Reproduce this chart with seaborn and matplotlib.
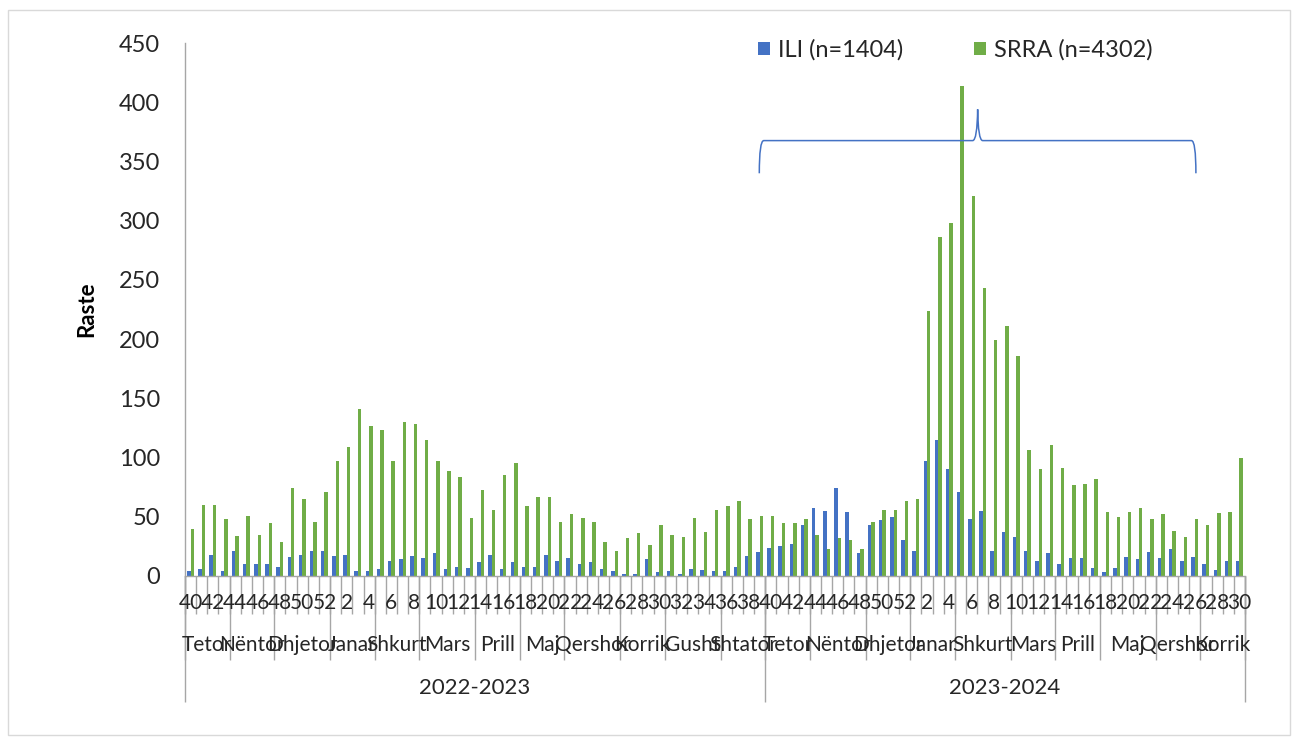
import numpy as np
import pandas as pd
import matplotlib
matplotlib.use("Agg")
import matplotlib.pyplot as plt
import seaborn as sns
from matplotlib.path import Path
from matplotlib.patches import PathPatch, Rectangle

# --- data -------------------------------------------------------------
weeks_s1 = list(range(40, 53)) + list(range(1, 40))
weeks_s2 = list(range(40, 53)) + list(range(1, 31))

ili_s1 = [4, 6, 18, 4, 21, 10, 10, 10, 8, 16, 18, 21, 21,
          17, 18, 4, 4, 6, 13, 14, 17, 15, 19, 6, 8, 7, 12, 18, 6, 12,
          8, 8, 18, 13, 15, 10, 12, 6, 4, 2, 2, 14, 3, 4, 2, 6, 5, 4, 4, 8, 17, 20]
srra_s1 = [40, 60, 60, 48, 34, 51, 35, 45, 29, 74, 65, 46, 71,
           97, 109, 141, 127, 123, 97, 130, 128, 115, 97, 89, 84, 49, 73, 56, 85, 95,
           59, 67, 67, 46, 52, 49, 46, 29, 21, 32, 36, 26, 43, 35, 33, 49, 37, 56, 59, 63, 48, 51]

ili_s2 = [24, 25, 27, 43, 57, 55, 74, 54, 19, 43, 47, 50, 30,
          21, 97, 115, 90, 71, 48, 55, 21, 37, 33, 21, 13, 19, 10, 15, 15, 7,
          3, 7, 16, 14, 20, 15, 23, 13, 16, 10, 5, 13, 13]
srra_s2 = [51, 45, 45, 48, 35, 23, 32, 30, 23, 46, 56, 56, 63,
           65, 224, 286, 298, 414, 321, 243, 199, 211, 186, 106, 90, 111, 91, 77, 78, 82,
           54, 50, 54, 57, 48, 52, 38, 33, 48, 43, 53, 54, 100]

seasons = ["2022-2023", "2023-2024"]
months_s1 = ["Tetor", "Nëntor", "Dhjetor", "Janar", "Shkurt", "Mars", "Prill",
             "Maj", "Qershor", "Korrik", "Gusht", "Shtator"]
month_len_s1 = [4, 4, 5, 4, 4, 5, 4, 4, 5, 4, 5, 4]
months_s2 = ["Tetor", "Nëntor", "Dhjetor", "Janar", "Shkurt", "Mars", "Prill",
             "Maj", "Qershor", "Korrik"]
month_len_s2 = [4, 5, 4, 4, 5, 4, 4, 5, 4, 4]

ili_label = "ILI (n=1404)"
srra_label = "SRRA (n=4302)"

# --- long table -------------------------------------------------------
cats = [f"{seasons[0]}-{w}" for w in weeks_s1] + [f"{seasons[1]}-{w}" for w in weeks_s2]
weeks_all = weeks_s1 + weeks_s2
df = pd.DataFrame({
    "cat": cats * 2,
    "series": [ili_label] * len(cats) + [srra_label] * len(cats),
    "value": ili_s1 + ili_s2 + srra_s1 + srra_s2,
})

blue = "#4472C4"
green = "#70AD47"
gray = "#a6a6a6"
txt = "#262626"

sns.set_style("white")
plt.rcParams["font.family"] = ["Lato", "DejaVu Sans"]

fig = plt.figure(figsize=(12.93, 7.40), dpi=100)
ax = fig.add_axes([185 / 1293, 1 - 576 / 740, 1060 / 1293, 533 / 740])

sns.barplot(data=df, x="cat", y="value", hue="series", order=cats,
            palette=[blue, green], width=0.62, ax=ax, saturation=1,
            linewidth=0)

ax.set_ylim(0, 450)
ax.set_xlim(-0.5, len(cats) - 0.5)
ax.set_yticks(range(0, 451, 50))
ax.tick_params(axis="y", length=8, width=1, color=gray, pad=10,
               labelsize=17, labelcolor=txt)
ax.set_xticks([])
ax.set_xlabel("")
ax.set_ylabel("Raste", fontsize=16, fontweight="bold", color="black")
ax.yaxis.set_label_coords(-0.083, 0.5)
for s in ["top", "right"]:
    ax.spines[s].set_visible(False)
for s in ["left", "bottom"]:
    ax.spines[s].set_color(gray)
    ax.spines[s].set_linewidth(1)

# --- multi-level x axis ----------------------------------------------
tr = ax.get_xaxis_transform()
n = len(cats)
ax.vlines(np.arange(n + 1) - 0.5, -0.071, 0, transform=tr, colors=gray,
          lw=1, clip_on=False)
for i in range(0, n, 2):
    ax.text(i, -0.051, str(weeks_all[i]), transform=tr, ha="center",
            va="center", fontsize=15, color=txt)

bounds = []
start = 0
for names, lens in [(months_s1, month_len_s1), (months_s2, month_len_s2)]:
    for name, ln in zip(names, lens):
        ax.text(start + ln / 2 - 0.5, -0.1295, name, transform=tr,
                ha="center", va="center", fontsize=15, color=txt)
        bounds.append(start)
        start += ln
bounds.append(start)
ax.vlines(np.array(bounds) - 0.5, -0.158, 0, transform=tr, colors=gray,
          lw=1, clip_on=False)

season_edges = [0, len(weeks_s1), n]
ax.vlines(np.array(season_edges) - 0.5, -0.237, 0, transform=tr,
          colors=gray, lw=1, clip_on=False)
for k, name in enumerate(seasons):
    mid = (season_edges[k] + season_edges[k + 1]) / 2 - 0.5
    ax.text(mid, -0.210, name, transform=tr, ha="center", va="center",
            fontsize=16, color=txt)

# --- brace annotation -------------------------------------------------
yb, yl, yt = 367.6, 340, 394
x0, xt, x1 = 50.97, 70.54, 90.1
verts = [(x0, yl), (x0, yb), (x0 + 0.4, yb),
         (xt - 0.45, yb), (xt - 0.04, yb), (xt, yt),
         (xt + 0.04, yb), (xt + 0.45, yb),
         (x1 - 0.4, yb), (x1, yb), (x1, yl)]
codes = [Path.MOVETO, Path.CURVE3, Path.CURVE3,
         Path.LINETO, Path.CURVE3, Path.CURVE3,
         Path.CURVE3, Path.CURVE3,
         Path.LINETO, Path.CURVE3, Path.CURVE3]
ax.add_patch(PathPatch(Path(verts, codes), facecolor="none",
                       edgecolor=blue, lw=1.1, clip_on=False))

# --- legend -----------------------------------------------------------
sns.move_legend(ax, "center", bbox_to_anchor=(0.727, 0.987), ncol=2,
                frameon=False, title=None, fontsize=17,
                handlelength=0.5, handleheight=0.5, handletextpad=0.35,
                columnspacing=3.0, labelcolor=txt)

fig.patches.append(Rectangle((8 / 1293, 5 / 740), 1282 / 1293, 725 / 740,
                             transform=fig.transFigure, fill=False,
                             edgecolor="#d9d9d9", lw=1))

fig.savefig("out.png", dpi=100, facecolor="white")
